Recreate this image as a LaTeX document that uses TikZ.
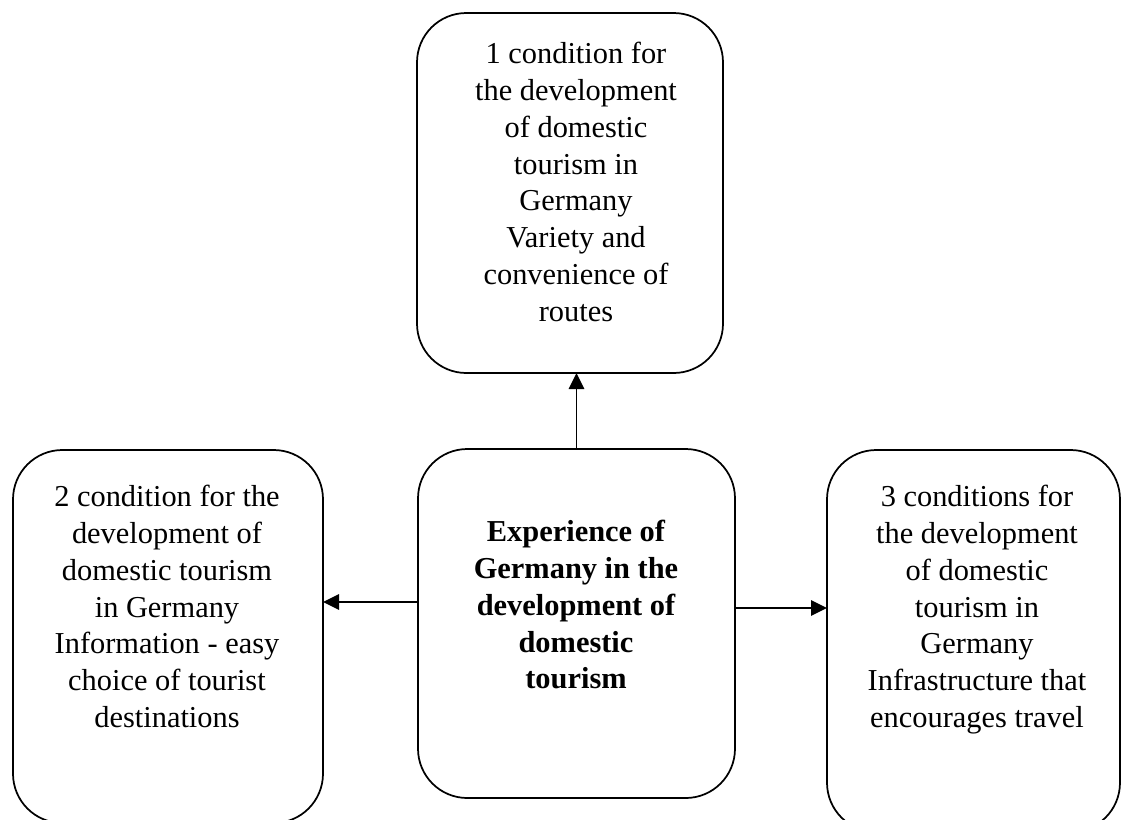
\documentclass[tikz,border=0pt]{standalone}
\usepackage{fontspec}
\setmainfont{Liberation Serif}
\usetikzlibrary{arrows.meta}
\begin{document}
\begin{tikzpicture}[x=0.75pt,y=-0.75pt,
  box/.style={draw, line width=1.3pt, rounded corners=37pt, inner sep=0pt, outer sep=0pt},
  txt/.style={align=center, inner sep=0pt, anchor=north,
    font=\fontsize{22.8}{27.6}\selectfont},
  link/.style={line width=1.3pt, -{Triangle[length=12pt,width=11.5pt]}}]
\useasboundingbox (0,0) rectangle (1122,819);
\clip (0,0) rectangle (1122,819);

% the four rounded boxes
\node[box, minimum width=229.5pt, minimum height=270pt] (top) at (570,193) {};
\node[box, minimum width=237.75pt, minimum height=261.75pt] (mid) at (576.5,623.5) {};
\node[box, minimum width=232.5pt, minimum height=279.75pt] (left) at (168,636.5) {};
\node[box, minimum width=219.75pt, minimum height=286.5pt] (right) at (973.5,641) {};

% their texts
\node[txt] (toptext) at (576,42) {1 condition for\\the development\\of domestic\\tourism in\\Germany\\Variety and\\convenience of\\routes};
\node[txt, font=\fontsize{22.8}{27.6}\selectfont\bfseries] (midtext) at (576,520) {Experience of\\Germany in the\\development of\\domestic\\tourism};
\node[txt] (lefttext) at (167,485) {2 condition for the\\development of\\domestic tourism\\in Germany\\Information - easy\\choice of tourist\\destinations};
\node[txt] (righttext) at (977,485) {3 conditions for\\the development\\of domestic\\tourism in\\Germany\\Infrastructure that\\encourages travel};

% arrows from the central box
\draw[link] (mid.north) -- (mid.north |- top.south);
\draw[link] (mid.west |- 0,602) -- (left.east |- 0,602);
\draw[link] (mid.east |- 0,608) -- (right.west |- 0,608);
\end{tikzpicture}
\end{document}
